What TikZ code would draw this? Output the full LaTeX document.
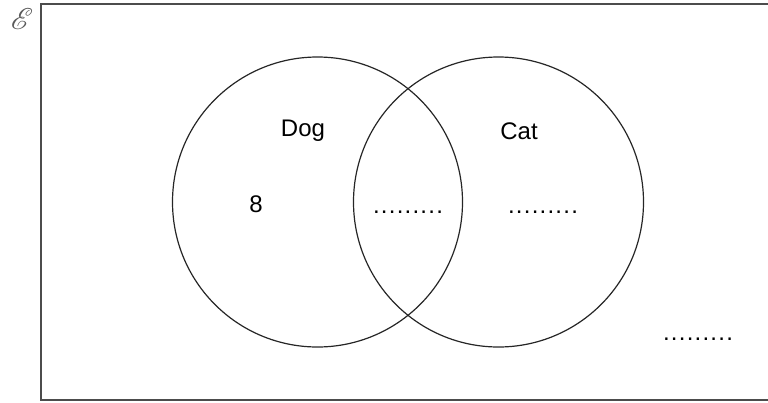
\documentclass[tikz,border=0pt]{standalone}
\usepackage{fontspec}
\setmainfont{Liberation Sans}
\usepackage{mathrsfs}
\newcommand\dotcell{\makebox[7.9pt]{.}}
\newcommand\dotline{\dotcell\dotcell\dotcell\dotcell\dotcell\dotcell\dotcell\dotcell\dotcell}
\begin{document}
\begin{tikzpicture}[x=1pt,y=-1pt,
  setcircle/.style={circle, draw=black!85, line width=1.2pt, inner sep=0pt, minimum size=290pt},
  lbl/.style={font=\fontsize{24}{26}\selectfont, inner sep=0pt, anchor=base},
  dots/.style={font=\fontsize{24}{26}\selectfont, inner sep=0pt, anchor=base}]
\useasboundingbox (0,0) rectangle (768,402);
\draw[black!70, line width=1.6pt] (790,4) -- (41,4) -- (41,400) -- (790,400);
\node[text=black!65, inner sep=0pt] (univ) at (22,19) {\scalebox{3.0}{$\mathscr{E}$}};
\node[setcircle] (dog) at (317.5,202) {};
\node[setcircle] (cat) at (498.5,202) {};
\node[lbl] (doglbl) at (303,136) {Dog};
\node[lbl] (catlbl) at (519,139) {Cat};
\node[lbl] (eight) at (256,212) {8};
\node[dots] (both) at (408,213) {\dotline};
\node[dots] (catonly) at (543,213) {\dotline};
\node[dots] (neither) at (698,340) {\dotline};
\end{tikzpicture}
\end{document}
